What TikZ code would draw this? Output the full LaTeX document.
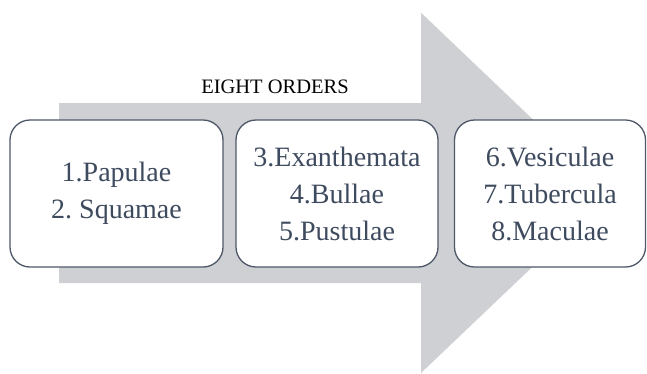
\documentclass[tikz,border=0pt]{standalone}
\usepackage{fontspec}
\setmainfont{Liberation Serif}
\frenchspacing
\definecolor{arrowgray}{RGB}{207,208,212}
\definecolor{boxline}{RGB}{78,88,104}
\definecolor{txt}{RGB}{62,74,94}
\begin{document}
\begin{tikzpicture}[x=1pt,y=-1pt,
  box/.style={draw=boxline, line width=1.3pt, rounded corners=20pt, fill=white,
    minimum height=147pt, align=center, inner sep=0pt, text=txt,
    font=\fontsize{28}{37}\selectfont},
  titletext/.style={font=\fontsize{20.5}{24}\selectfont, text=black, inner sep=0pt}]
\useasboundingbox (0,0) rectangle (647,373);
% big arrow
\fill[arrowgray] (59,103) -- (421,103) -- (421,12.7) -- (610,193) -- (421,373)
  -- (421,283) -- (59,283) -- cycle;
\node[titletext, anchor=base] (title) at (275,93) {EIGHT ORDERS};
\node[box, minimum width=213pt] (b1) at (116.5,193.5) {1.Papulae\\2. Squamae};
\node[box, minimum width=202pt] (b2) at (337,193.5) {3.Exanthemata\\4.Bullae\\5.Pustulae};
\node[box, minimum width=191pt] (b3) at (550,193.5) {6.Vesiculae\\7.Tubercula\\8.Maculae};
\end{tikzpicture}
\end{document}
